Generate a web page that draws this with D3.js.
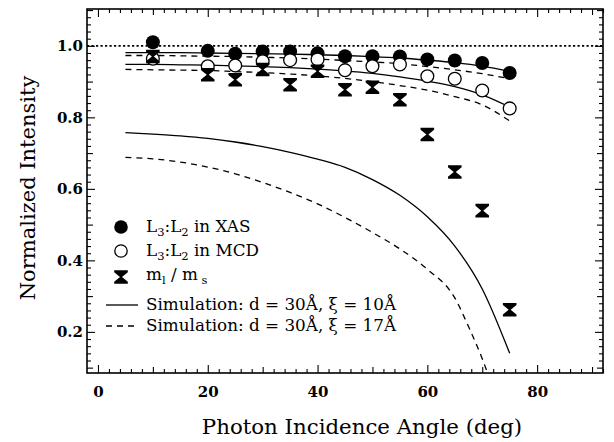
<!DOCTYPE html>
<html><head><meta charset="utf-8">
<script src="https://cdn.jsdelivr.net/npm/d3@7"></script>
<style>body{margin:0;background:#fff}svg{display:block}</style>
</head><body><svg id="c" width="614" height="442"></svg>
<script>
// ---- data ----
const angles = [10,20,25,30,35,40,45,50,55,60,65,70,75];
const xasRatio = [1.010,0.986,0.978,0.984,0.984,0.979,0.971,0.971,0.970,0.962,0.959,0.952,0.924];
const mcdRatio = [0.964,0.943,0.945,0.957,0.960,0.962,0.932,0.943,0.948,0.915,0.908,0.875,0.825];
const orbSpin  = [0.970,0.919,0.905,0.934,0.891,0.929,0.877,0.884,0.849,0.752,0.647,0.539,0.262];

const simAngles = [5,10,15,20,25,30,35,40,45,50,55,60,65,70,75];
const simXas10  = [0.981,0.981,0.981,0.980,0.979,0.978,0.977,0.975,0.973,0.970,0.966,0.960,0.953,0.943,0.928];
const simXas17  = [0.973,0.973,0.972,0.971,0.970,0.968,0.966,0.963,0.959,0.955,0.950,0.942,0.933,0.922,0.908];
const simMcd10  = [0.948,0.948,0.947,0.946,0.944,0.942,0.939,0.935,0.930,0.923,0.913,0.901,0.886,0.863,0.829];
const simMcd17  = [0.934,0.933,0.932,0.931,0.928,0.925,0.921,0.916,0.909,0.900,0.889,0.876,0.858,0.835,0.790];
const simOrb10  = [0.757,0.753,0.748,0.741,0.731,0.718,0.702,0.683,0.660,0.626,0.582,0.522,0.440,0.320,0.140];
const simOrb17Angles = [5,10,15,20,25,30,35,40,45,50,55,60,65,67.5,70,72];
const simOrb17  = [0.688,0.684,0.675,0.661,0.642,0.618,0.590,0.558,0.520,0.478,0.432,0.375,0.295,0.215,0.125,0.040];

const xTickLabels = [0,20,40,60,80];
const yTickLabels = [0.2,0.4,0.6,0.8,1.0];
const legendLabels = ["L3:L2 in XAS","L3:L2 in MCD","ml / ms","Simulation: d = 30Å, ξ = 10Å","Simulation: d = 30Å, ξ = 17Å"];

// ---- layout ----
const svg = d3.select("#c");
const L=87, R=603, T=9, B=373;
const x = d3.scaleLinear().domain([-2,92]).range([L,R]);
const y = d3.scaleLinear().domain([0.085,1.103]).range([B,T]);
const font = "'DejaVu Serif', 'Liberation Serif', serif";

svg.append("defs").append("clipPath").attr("id","clip")
  .append("rect").attr("x",L).attr("y",T).attr("width",R-L).attr("height",B-T);

// ticks
function tickSet(step, start, end){ return d3.range(start, end+1e-9, step).map(v=>+v.toFixed(4)); }
const xMinor = tickSet(2,0,92), xMed = tickSet(10,0,90), xMaj = xTickLabels;
const yMinor = tickSet(0.02,0.1,1.1), yMed = tickSet(0.1,0.1,1.1), yMaj = yTickLabels;

function isIn(arr,v){ return arr.some(a=>Math.abs(a-v)<1e-6); }
function drawAxes(){
  const specs = [
    {gen:d3.axisBottom(x), tr:`translate(0,${B})`, vals:[xMinor,xMed,xMaj], lab:true},
    {gen:d3.axisTop(x), tr:`translate(0,${T})`, vals:[xMinor,xMed,xMaj], lab:false},
    {gen:d3.axisLeft(y), tr:`translate(${L},0)`, vals:[yMinor,yMed,yMaj], lab:true, isY:true},
    {gen:d3.axisRight(y), tr:`translate(${R},0)`, vals:[yMinor,yMed,yMaj], lab:false, isY:true},
  ];
  const lens=[4,6,8];
  specs.forEach(s=>{
    s.vals.forEach((vals,i)=>{
      let vv = vals.filter(v=> i==2 || !(isIn(s.vals[2],v) || (i==0 && isIn(s.vals[1],v))));
      vv = vv.filter(v=> s.isY ? (v>=0.086 && v<=1.102) : (v>=-2 && v<=92));
      const ax = s.gen.tickValues(vv).tickSize(-lens[i]).tickSizeOuter(0)
        .tickFormat(i==2 && s.lab ? (s.isY? d3.format(".1f") : d3.format("d")) : "");
      const g = svg.append("g").attr("transform",s.tr).call(ax);
      g.select(".domain").remove();
      g.selectAll(".tick line").attr("stroke","#000").attr("stroke-width",1.1);
      g.selectAll(".tick text").attr("font-family",font).attr("font-size",15)
        .attr("fill","#000").attr("font-weight","bold");
      if(s.isY) g.selectAll(".tick text").attr("x",-4);
      else g.selectAll(".tick text").attr("y",13);
    });
  });
  svg.append("rect").attr("x",L).attr("y",T).attr("width",R-L).attr("height",B-T)
    .attr("fill","none").attr("stroke","#000").attr("stroke-width",1.6);
}
drawAxes();

// reference dotted line at 1.0
svg.append("line").attr("x1",L).attr("x2",R).attr("y1",y(1.0)).attr("y2",y(1.0))
  .attr("stroke","#000").attr("stroke-width",1.6).attr("stroke-dasharray","2.2,2.3");

// simulation lines
const plot = svg.append("g").attr("clip-path","url(#clip)");
const line = d3.line().x(d=>x(d[0])).y(d=>y(d[1])).curve(d3.curveMonotoneX);
function sim(ax, vals, dash){
  plot.append("path").datum(ax.map((a,i)=>[a,vals[i]])).attr("d",line)
    .attr("fill","none").attr("stroke","#000").attr("stroke-width",1.3)
    .attr("stroke-dasharray",dash?"6,5":null);
}
sim(simAngles, simXas10, false);
sim(simAngles, simXas17, true);
sim(simAngles, simMcd10, false);
sim(simAngles, simMcd17, true);
sim(simAngles, simOrb10, false);
sim(simOrb17Angles, simOrb17, true);

// markers
const hg = (w,h)=>`M${-w},${-h}L${w},${-h}L${w},${-h+2}L1,0L${w},${h-2}L${w},${h}L${-w},${h}L${-w},${h-2}L-1,0L${-w},${-h+2}Z`;
plot.selectAll("circle.xas").data(angles).join("circle").attr("class","xas")
  .attr("cx",d=>x(d)).attr("cy",(d,i)=>y(xasRatio[i])).attr("r",7).attr("fill","#000");
plot.selectAll("circle.mcd").data(angles).join("circle").attr("class","mcd")
  .attr("cx",d=>x(d)).attr("cy",(d,i)=>y(mcdRatio[i])).attr("r",6.4)
  .attr("fill","#fff").attr("stroke","#000").attr("stroke-width",1.3);
plot.selectAll("path.orb").data(angles).join("path").attr("class","orb")
  .attr("transform",(d,i)=>`translate(${x(d)},${y(orbSpin[i])})`).attr("d",hg(6.8,6.8)).attr("fill","#000");

// legend
const lg = svg.append("g").attr("font-family",font).attr("font-size",16.8).attr("fill","#000");
const lx=121, ly=[227,251,277,305,326], tx=146;
lg.append("circle").attr("cx",lx).attr("cy",ly[0]).attr("r",6.8).attr("fill","#000");
lg.append("circle").attr("cx",lx).attr("cy",ly[1]).attr("r",6.2).attr("fill","#fff").attr("stroke","#000").attr("stroke-width",1.3);
lg.append("path").attr("transform",`translate(${lx},${ly[2]})`).attr("d",hg(6.8,6.8)).attr("fill","#000");
lg.append("line").attr("x1",106).attr("x2",138).attr("y1",ly[3]).attr("y2",ly[3]).attr("stroke","#000").attr("stroke-width",1.3);
lg.append("line").attr("x1",106).attr("x2",138).attr("y1",ly[4]).attr("y2",ly[4]).attr("stroke","#000").attr("stroke-width",1.3).attr("stroke-dasharray","6,5");

function sub(t, parts){
  parts.forEach(p=>{
    const s=t.append("tspan").text(p[0]);
    if(p[1]) s.attr("font-size",11.5).attr("dy",4);
    else if(p[2]) s.attr("dy",-4);
  });
}
let t0 = lg.append("text").attr("x",tx).attr("y",ly[0]+5);
sub(t0,[["L"],["3",1],[":L",0,1],["2",1],[" in XAS",0,1]]);
let t1 = lg.append("text").attr("x",tx).attr("y",ly[1]+5);
sub(t1,[["L"],["3",1],[":L",0,1],["2",1],[" in MCD",0,1]]);
let t2 = lg.append("text").attr("x",tx).attr("y",ly[2]+3);
sub(t2,[["m"],["l",1],[" / m",0,1],[" s",1]]);
lg.append("text").attr("x",tx).attr("y",ly[3]+5).text(legendLabels[3]);
lg.append("text").attr("x",tx).attr("y",ly[4]+5).text(legendLabels[4]);

// axis titles
svg.append("text").attr("x",362).attr("y",434).attr("text-anchor","middle")
  .attr("font-family",font).attr("font-size",21.3).text("Photon Incidence Angle (deg)");
svg.append("text").attr("transform",`translate(35,188) rotate(-90)`).attr("text-anchor","middle")
  .attr("font-family",font).attr("font-size",21).text("Normalized Intensity");
</script></body></html>
